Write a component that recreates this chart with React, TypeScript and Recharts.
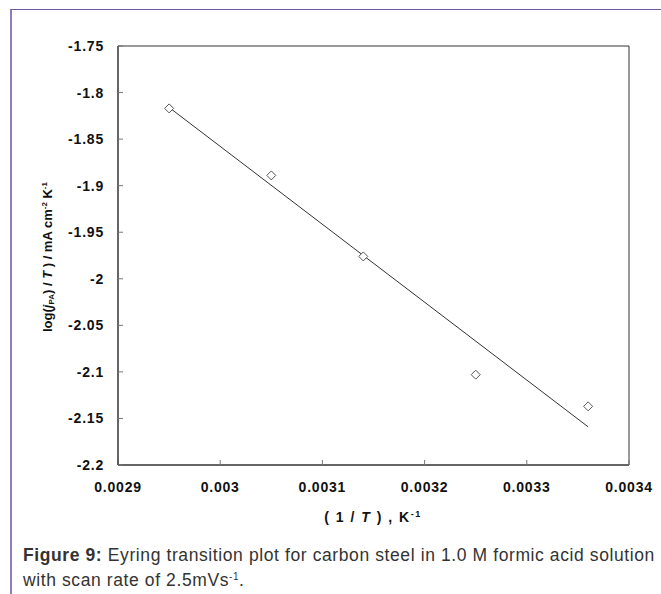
import React from 'react';
import { ScatterChart, Scatter, XAxis, YAxis, ReferenceArea, Label } from 'recharts';

// Data
const invT = [0.00295, 0.00305, 0.00314, 0.00325, 0.00336];
const logJT = [-1.817, -1.889, -1.976, -2.103, -2.137];
const fitX = [0.00295, 0.00336];
const fitY = [-1.816, -2.159];
const xTicks = [0.0029, 0.003, 0.0031, 0.0032, 0.0033, 0.0034];
const yTicks = [-1.75, -1.8, -1.85, -1.9, -1.95, -2, -2.05, -2.1, -2.15, -2.2];

const points = invT.map((x, i) => ({ x, y: logJT[i] }));
const fitLine = fitX.map((x, i) => ({ x, y: fitY[i] }));

const FONT = '"Liberation Sans", Arial, Helvetica, sans-serif';

const Diamond = (props: any) => {
  const { cx, cy } = props;
  if (cx == null || cy == null) return <g />;
  const r = 4.5;
  return (
    <path
      d={`M${cx},${cy - r} L${cx + r},${cy} L${cx},${cy + r} L${cx - r},${cy} Z`}
      fill="#fff"
      stroke="#555"
      strokeWidth={1}
    />
  );
};

const NoDot = () => <g />;

const tickStyle = {
  fontFamily: FONT,
  fontSize: 14,
  fontWeight: 700,
  fill: '#111',
  letterSpacing: 0.8,
};

const YTitle = () => (
  <text
    x={51.5}
    y={257}
    transform="rotate(-90, 51.5, 257)"
    textAnchor="middle"
    fontFamily={FONT}
    fontSize={13}
    fontWeight={700}
    fill="#111"
  >
    log(
    <tspan fontStyle="italic">j</tspan>
    <tspan fontSize={8} dy={2}>PA</tspan>
    <tspan dy={-2}>) / </tspan>
    <tspan fontStyle="italic">T</tspan>
    <tspan> ) / mA cm</tspan>
    <tspan fontSize={8} dy={-5}>-2</tspan>
    <tspan dy={5}> K</tspan>
    <tspan fontSize={8} dy={-5}>-1</tspan>
  </text>
);

const XTitle = () => (
  <text
    x={373}
    y={522}
    textAnchor="middle"
    fontFamily={FONT}
    fontSize={14}
    fontWeight={700}
    fill="#111"
    letterSpacing={1.5}
  >
    {'( 1 / '}
    <tspan fontStyle="italic">T</tspan>
    <tspan>{' ) , K'}</tspan>
    <tspan fontSize={9} dy={-5}>-1</tspan>
  </text>
);

export default function App() {
  return (
    <div
      style={{
        position: 'absolute',
        left: 0,
        top: 0,
        width: 661,
        height: 594,
        background: '#fff',
        overflow: 'hidden',
      }}
    >
      <div style={{ position: 'absolute', left: 0, top: 0 }}>
        <ScatterChart
          width={661}
          height={594}
          margin={{ top: 46, right: 32, bottom: 69, left: 18 }}
        >
          <XAxis
            type="number"
            dataKey="x"
            domain={[0.0029, 0.0034]}
            ticks={xTicks}
            interval={0}
            allowDataOverflow
            height={60}
            tickSize={-5}
            tickMargin={22}
            axisLine={{ stroke: '#333' }}
            tickLine={{ stroke: '#777' }}
            tick={tickStyle}
            tickFormatter={(v: number) => String(v)}
          >
            <Label content={() => <XTitle />} />
          </XAxis>
          <YAxis
            type="number"
            dataKey="y"
            domain={[-2.2, -1.75]}
            ticks={yTicks}
            interval={0}
            allowDataOverflow
            width={100}
            tickSize={-5}
            tickMargin={19}
            axisLine={{ stroke: '#333' }}
            tickLine={{ stroke: '#777' }}
            tick={tickStyle}
            tickFormatter={(v: number) => String(v)}
          >
            <Label content={() => <YTitle />} />
          </YAxis>
          <ReferenceArea
            x1={0.0029}
            x2={0.0034}
            y1={-2.2}
            y2={-1.75}
            fill="none"
            stroke="#333"
            strokeWidth={1}
            ifOverflow="visible"
          />
          <Scatter
            data={fitLine}
            line={{ stroke: '#333', strokeWidth: 1 }}
            lineType="joint"
            shape={NoDot}
            isAnimationActive={false}
          />
          <Scatter data={points} shape={Diamond} isAnimationActive={false} />
        </ScatterChart>
      </div>
      <div
        style={{
          position: 'absolute',
          left: 10,
          top: 9,
          width: 651,
          height: 585,
          borderTop: '1px solid #6f5aa8',
          borderLeft: '2px solid #8f7cc0',
          boxSizing: 'border-box',
        }}
      />
      <div
        style={{
          position: 'absolute',
          left: 23,
          top: 543,
          whiteSpace: 'nowrap',
          fontFamily: FONT,
          fontSize: 17.5,
          lineHeight: '25px',
          letterSpacing: 0.6,
          color: '#333',
        }}
      >
        <b>Figure 9:</b> Eyring transition plot for carbon steel in 1.0 M formic acid solution
        <br />
        with scan rate of 2.5mVs
        <sup style={{ fontSize: 10, verticalAlign: 'top', lineHeight: '18px' }}>-1</sup>.
      </div>
    </div>
  );
}
